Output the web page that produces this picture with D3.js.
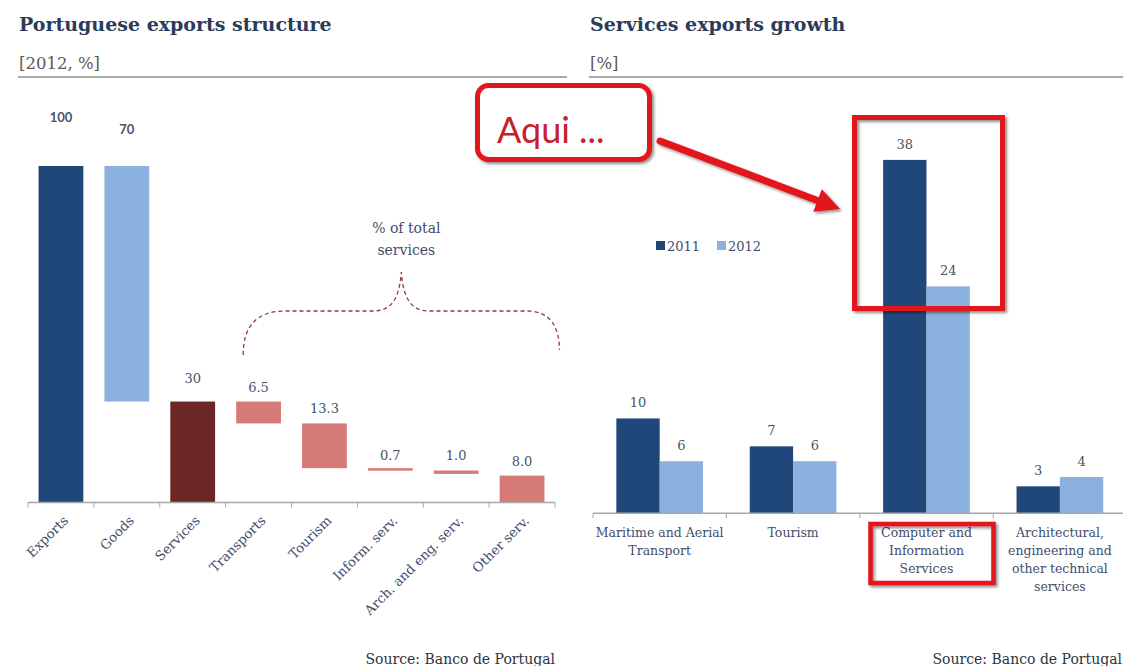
<!DOCTYPE html>
<html>
<head>
<meta charset="utf-8">
<script src="https://cdn.jsdelivr.net/npm/d3@7"></script>
<style>
  html, body { margin: 0; padding: 0; background: #ffffff; }
  svg { display: block; }
</style>
</head>
<body>
<script>
// ---------------- DATA ----------------
const leftCategories = ["Exports", "Goods", "Services", "Transports", "Tourism", "Inform. serv.", "Arch. and eng. serv.", "Other serv."];
const leftValues = [100, 70, 30, 6.5, 13.3, 0.7, 1.0, 8.0];
const leftKinds = ["total", "step", "total", "step", "step", "step", "step", "total"];
const leftLabels = ["100", "70", "30", "6.5", "13.3", "0.7", "1.0", "8.0"];

const rightCategories = ["Maritime and Aerial Transport", "Tourism", "Computer and Information Services", "Architectural, engineering and other technical services"];
const rightCategoryLines = [["Maritime and Aerial", "Transport"], ["Tourism"], ["Computer and", "Information", "Services"], ["Architectural,", "engineering and", "other technical", "services"]];
const seriesNames = ["2011", "2012"];
const values2011 = [10.2, 7.2, 38.0, 2.9];
const values2012 = [5.6, 5.6, 24.4, 3.9];

const leftTitle = "Portuguese exports structure";
const leftSubtitle = "[2012, %]";
const rightTitle = "Services exports growth";
const rightSubtitle = "[%]";
const sourceText = "Source: Banco de Portugal";
const braceText = ["% of total", "services"];
const calloutText = "Aqui ...";

// ---------------- STYLE ----------------
const W = 1123, H = 666;
const SERIF = "'DejaVu Serif', serif";
const SANS = "Lato, 'Open Sans', sans-serif";
const titleColor = "#2b3c5a";
const labelColor = "#3f4e6c";
const valueColor = "#4a5468";
const darkBlue = "#1f477a";
const lightBlue = "#8db1de";
const leftColors = ["#1f477a", "#8db1de", "#6b2626", "#d67a77", "#d67a77", "#d67a77", "#d67a77", "#d67a77"];
const leftLabelLift = [44, 32, 19, 10, 10, 8, 11, 10];
const leftLabelFonts = [SANS, SANS, SERIF, SERIF, SERIF, SERIF, SERIF, SERIF];
const leftLabelWeights = ["bold", "bold", "normal", "normal", "normal", "normal", "normal", "normal"];
const red = "#e3121b";

const svg = d3.select("body").append("svg").attr("width", W).attr("height", H);

const defs = svg.append("defs");
const f = defs.append("filter").attr("id", "shadow").attr("x", "-20%").attr("y", "-20%").attr("width", "140%").attr("height", "140%");
f.append("feDropShadow").attr("dx", 2).attr("dy", 2).attr("stdDeviation", 1.5).attr("flood-color", "#000").attr("flood-opacity", 0.45);

// ---------------- HEADERS ----------------
function header(x0, x1, title, sub) {
  svg.append("text").attr("x", x0 + 1).attr("y", 31).attr("font-family", SERIF).attr("font-weight", "bold")
    .attr("font-size", 19).attr("fill", titleColor).text(title);
  svg.append("text").attr("x", x0 + 1).attr("y", 69).attr("font-family", SERIF)
    .attr("font-size", 16.5).attr("fill", "#5a5a5a").text(sub);
  svg.append("line").attr("x1", x0).attr("x2", x1).attr("y1", 77).attr("y2", 77)
    .attr("stroke", "#8c8c8c").attr("stroke-width", 1.5);
}
header(18, 567, leftTitle, leftSubtitle);
header(589, 1123, rightTitle, rightSubtitle);

// ---------------- LEFT CHART (waterfall) ----------------
const xL = d3.scaleBand().domain(leftCategories).range([28, 555]).paddingInner(0.32).paddingOuter(0.16);
const yL = d3.scaleLinear().domain([0, 100]).range([502.5, 166]);

let level = 0;
const leftBars = leftCategories.map((c, i) => {
  const v = leftValues[i];
  let lo, hi;
  if (leftKinds[i] === "total") { lo = 0; hi = v; level = v; }
  else { hi = level; lo = level - v; level = lo; }
  return { c, v, lo, hi, i };
});

const gL = svg.append("g");
gL.selectAll("rect.bar").data(leftBars).join("rect")
  .attr("x", d => xL(d.c)).attr("width", xL.bandwidth())
  .attr("y", d => yL(d.hi)).attr("height", d => Math.max(yL(d.lo) - yL(d.hi), 2.5))
  .attr("fill", d => leftColors[d.i]);

gL.selectAll("text.val").data(leftBars).join("text")
  .attr("x", d => xL(d.c) + xL.bandwidth() / 2)
  .attr("y", d => yL(d.hi) - leftLabelLift[d.i])
  .attr("text-anchor", "middle").attr("font-family", d => leftLabelFonts[d.i])
  .attr("font-weight", d => leftLabelWeights[d.i])
  .attr("font-size", 13).attr("fill", valueColor).text(d => leftLabels[d.i]);

// axis
const stepL = xL.step();
const r0L = xL.range()[0], r1L = xL.range()[1];
gL.append("line").attr("x1", r0L).attr("x2", r1L).attr("y1", yL(0)).attr("y2", yL(0))
  .attr("stroke", "#a8a8a8").attr("stroke-width", 1.5);
gL.selectAll("line.tick").data(d3.range(leftCategories.length + 1)).join("line")
  .attr("x1", i => r0L + i * stepL).attr("x2", i => r0L + i * stepL)
  .attr("y1", yL(0)).attr("y2", yL(0) + 5).attr("stroke", "#a8a8a8").attr("stroke-width", 1);

gL.selectAll("text.cat").data(leftCategories).join("text")
  .attr("transform", c => `translate(${xL(c) + xL.bandwidth() / 2 + 8},${yL(0) + 19}) rotate(-45)`)
  .attr("text-anchor", "end").attr("font-family", SERIF).attr("font-size", 13.2)
  .attr("fill", labelColor).text(c => c);

// brace annotation
const bL = xL("Transports") + 7;
const bR = xL("Other serv.") + xL.bandwidth() + 15;
const bM = (bL + bR) / 2;
const bY = 311, bTop = 272;
const brace = d3.path();
brace.moveTo(bL, 355);
brace.bezierCurveTo(bL, 328, bL + 12, bY, bL + 42, bY);
brace.lineTo(bM - 28, bY);
brace.bezierCurveTo(bM - 10, bY, bM - 2, bY - 12, bM, bTop);
brace.bezierCurveTo(bM + 2, bY - 12, bM + 10, bY, bM + 28, bY);
brace.lineTo(bR - 32, bY);
brace.bezierCurveTo(bR - 8, bY, bR, bY + 18, bR, 350);
gL.append("path").attr("d", brace.toString()).attr("fill", "none")
  .attr("stroke", "#8e3b3b").attr("stroke-width", 1.3).attr("stroke-dasharray", "4,3");
gL.selectAll("text.brace").data(braceText).join("text")
  .attr("x", bM + 5).attr("y", (d, i) => 233 + i * 22).attr("text-anchor", "middle")
  .attr("font-family", SERIF).attr("font-size", 14).attr("fill", labelColor).text(d => d);

gL.append("text").attr("x", 555).attr("y", 664).attr("text-anchor", "end")
  .attr("font-family", SERIF).attr("font-size", 14).attr("fill", "#2d3340").text(sourceText);

// ---------------- RIGHT CHART (grouped bars) ----------------
const x0R = d3.scaleBand().domain(rightCategories).range([593, 1126.6]).paddingInner(0.35).paddingOuter(0.175);
const x1R = d3.scaleBand().domain(seriesNames).range([0, x0R.bandwidth()]);
const yR = d3.scaleLinear().domain([0, 40]).range([513.3, 141.3]);
const colorR = d3.scaleOrdinal().domain(seriesNames).range([darkBlue, lightBlue]);
const fmt = d3.format(".0f");

const rightData = rightCategories.map((c, i) => ({ c, vals: [
  { s: "2011", v: values2011[i] }, { s: "2012", v: values2012[i] } ] }));

const gR = svg.append("g");
const groups = gR.selectAll("g.grp").data(rightData).join("g")
  .attr("transform", d => `translate(${x0R(d.c)},0)`);
groups.selectAll("rect").data(d => d.vals).join("rect")
  .attr("x", d => x1R(d.s)).attr("width", x1R.bandwidth())
  .attr("y", d => yR(d.v)).attr("height", d => yR(0) - yR(d.v))
  .attr("fill", d => colorR(d.s));
groups.selectAll("text").data(d => d.vals).join("text")
  .attr("x", d => x1R(d.s) + x1R.bandwidth() / 2).attr("y", d => yR(d.v) - 11)
  .attr("text-anchor", "middle").attr("font-family", SERIF).attr("font-size", 13)
  .attr("fill", valueColor).text(d => fmt(d.v));

const stepR = x0R.step(), r0R = x0R.range()[0];
gR.append("line").attr("x1", r0R).attr("x2", W).attr("y1", yR(0)).attr("y2", yR(0))
  .attr("stroke", "#a8a8a8").attr("stroke-width", 1.5);
gR.selectAll("line.tick").data(d3.range(rightCategories.length + 1)).join("line")
  .attr("x1", i => r0R + i * stepR).attr("x2", i => r0R + i * stepR)
  .attr("y1", yR(0)).attr("y2", yR(0) + 5).attr("stroke", "#a8a8a8");

const catT = gR.selectAll("text.cat").data(rightCategories).join("text")
  .attr("text-anchor", "middle").attr("font-family", SERIF).attr("font-size", 12.5)
  .attr("fill", labelColor);
catT.each(function (c, i) {
  d3.select(this).selectAll("tspan").data(rightCategoryLines[i]).join("tspan")
    .attr("x", x0R(c) + x0R.bandwidth() / 2).attr("y", (d, j) => 537 + j * 18).text(d => d);
});

// legend
const leg = gR.append("g").attr("transform", "translate(656,246)");
seriesNames.forEach((s, i) => {
  const g = leg.append("g").attr("transform", `translate(${i * 61},0)`);
  g.append("rect").attr("x", 0).attr("y", -5).attr("width", 9).attr("height", 9).attr("fill", colorR(s));
  g.append("text").attr("x", 11).attr("y", 5).attr("font-family", SERIF).attr("font-size", 13)
    .attr("fill", labelColor).text(s);
});

gR.append("text").attr("x", 1122).attr("y", 664).attr("text-anchor", "end")
  .attr("font-family", SERIF).attr("font-size", 14).attr("fill", "#2d3340").text(sourceText);

// ---------------- CALLOUT ANNOTATIONS ----------------
const ann = svg.append("g");
ann.append("rect").attr("x", 477.5).attr("y", 85.5).attr("width", 172).attr("height", 74).attr("rx", 11)
  .attr("fill", "#fff").attr("stroke", red).attr("stroke-width", 5).attr("filter", "url(#shadow)");
ann.append("text").attr("x", 497).attr("y", 143).attr("font-family", SANS).attr("font-size", 36)
  .attr("fill", "#c8202b").text(calloutText);

// arrow
const tail = [660, 141], tip = [840, 209];
const dx = tip[0] - tail[0], dy = tip[1] - tail[1], len = Math.hypot(dx, dy);
const ux = dx / len, uy = dy / len, px = -uy, py = ux;
const hl = 24, hw = 12;
const bx = tip[0] - ux * hl, by = tip[1] - uy * hl;
const arrow = ann.append("g").attr("filter", "url(#shadow)");
arrow.append("line").attr("x1", tail[0]).attr("y1", tail[1]).attr("x2", bx + ux * 2).attr("y2", by + uy * 2)
  .attr("stroke", red).attr("stroke-width", 7).attr("stroke-linecap", "round");
arrow.append("polygon")
  .attr("points", [[tip[0], tip[1]], [bx + px * hw, by + py * hw], [bx - px * hw, by - py * hw]].map(p => p.join(",")).join(" "))
  .attr("fill", red);

// highlight boxes
ann.append("rect").attr("x", 854.5).attr("y", 117.5).attr("width", 148).attr("height", 191)
  .attr("fill", "none").attr("stroke", red).attr("stroke-width", 5).attr("filter", "url(#shadow)");
ann.append("rect").attr("x", 870.5).attr("y", 524).attr("width", 123).attr("height", 59)
  .attr("fill", "none").attr("stroke", red).attr("stroke-width", 4.5).attr("filter", "url(#shadow)");
</script>
</body>
</html>
